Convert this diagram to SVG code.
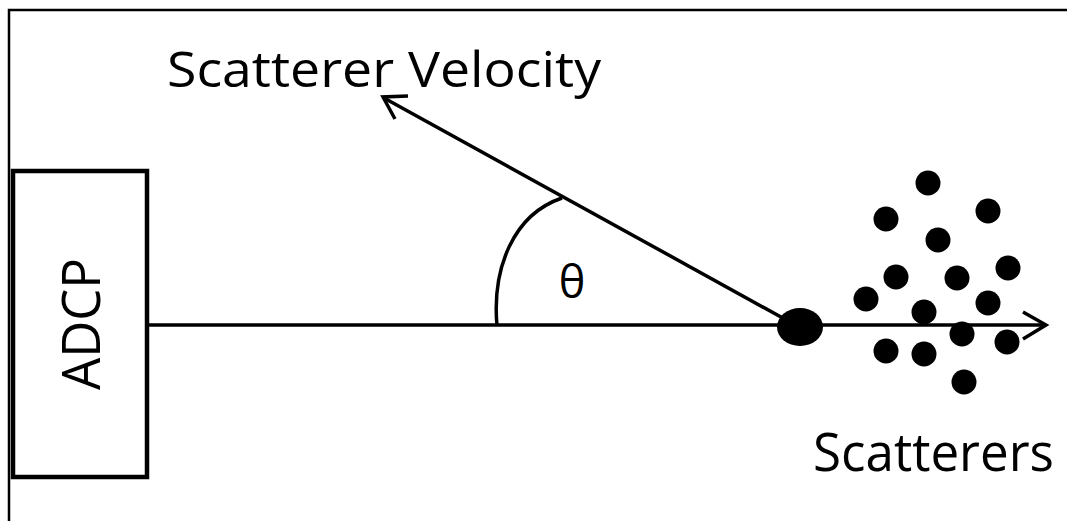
<svg xmlns="http://www.w3.org/2000/svg" width="1067" height="521" viewBox="0 0 1067 521">
<style>
.ln{stroke:#000;stroke-width:3.5;fill:none;stroke-linecap:butt}
.dot{fill:#000}
.lbl{font-family:"Open Sans","Liberation Sans",sans-serif;fill:#000}
</style>
<rect x="0" y="0" width="1067" height="521" fill="#fff"/>
<g id="frame">
<path d="M9,521 V10 H1067" fill="none" stroke="#000" stroke-width="2.5"/>
</g>
<g id="adcp">
<rect x="13" y="171" width="134" height="306" fill="#fff" stroke="#000" stroke-width="4.5"/>
<text class="lbl" transform="translate(100,390) rotate(-90)" font-size="53" textLength="132" lengthAdjust="spacingAndGlyphs">ADCP</text>
</g>
<g id="connectors">
<line class="ln" x1="147" y1="325" x2="1045" y2="325"/>
<polyline class="ln" points="1023,312 1046,325 1023,339"/>
<line class="ln" x1="790" y1="322" x2="384" y2="98"/>
<polyline class="ln" points="408,96 383,97 395,119"/>
<path class="ln" d="M497,326 C492,270 512,215 562,198"/>
</g>
<g id="scatterer">
<ellipse class="dot" cx="800" cy="327" rx="23" ry="19"/>
</g>
<g id="scatterers">
<circle class="dot" cx="928" cy="183" r="12.5"/>
<circle class="dot" cx="886" cy="219" r="12.5"/>
<circle class="dot" cx="988" cy="211" r="12.5"/>
<circle class="dot" cx="938" cy="240" r="12.5"/>
<circle class="dot" cx="1008" cy="268" r="12.5"/>
<circle class="dot" cx="896" cy="277" r="12.5"/>
<circle class="dot" cx="957" cy="278" r="12.5"/>
<circle class="dot" cx="866" cy="299" r="12.5"/>
<circle class="dot" cx="988" cy="303" r="12.5"/>
<circle class="dot" cx="924" cy="312" r="12.5"/>
<circle class="dot" cx="962" cy="334" r="12.5"/>
<circle class="dot" cx="1007" cy="342" r="12.5"/>
<circle class="dot" cx="886" cy="351" r="12.5"/>
<circle class="dot" cx="924" cy="354" r="12.5"/>
<circle class="dot" cx="964" cy="382" r="12.5"/>
</g>
<g id="labels">
<text class="lbl" x="167" y="87" font-size="50" textLength="434" lengthAdjust="spacingAndGlyphs">Scatterer Velocity</text>
<text class="lbl" x="813" y="471" font-size="53" textLength="241" lengthAdjust="spacingAndGlyphs">Scatterers</text>
<text class="lbl" x="572" y="298" font-size="45" text-anchor="middle">θ</text>
</g>
</svg>
